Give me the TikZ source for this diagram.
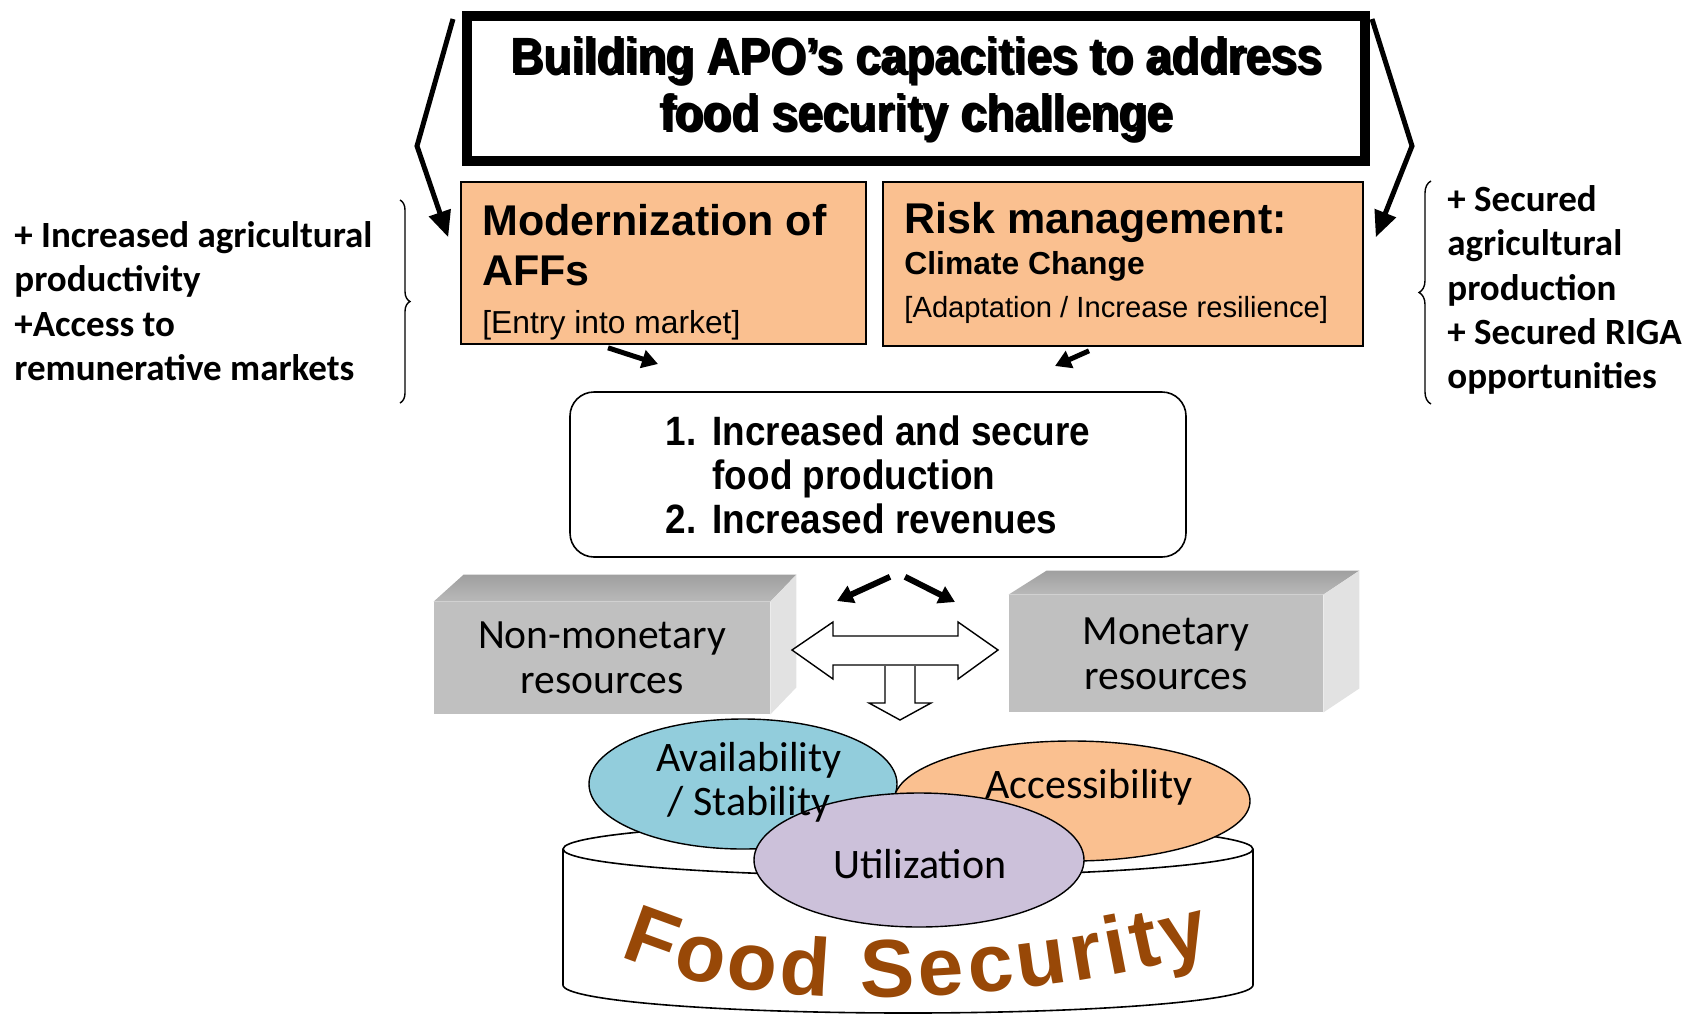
\documentclass[tikz,border=0pt]{standalone}
\usepackage{fontspec}
\setmainfont{Liberation Sans}
\newfontfamily\narrowfont[FakeStretch=0.9]{Liberation Sans}
\newfontfamily\calfont{Carlito}
\usetikzlibrary{arrows.meta,shapes.geometric,decorations.pathreplacing,decorations.text,calc}

\definecolor{peach}{RGB}{250,192,144}
\definecolor{skyblue}{RGB}{146,205,220}
\definecolor{lilac}{RGB}{204,193,218}
\definecolor{fsbrown}{RGB}{152,72,7}
\definecolor{facegray}{RGB}{192,192,192}
\definecolor{sidegray}{RGB}{226,226,226}

\newcommand\fsfont{\bfseries\fontsize{41}{43}\selectfont}

\tikzset{
  peachbox/.style={rectangle,draw=black,line width=0.8pt,fill=peach,inner sep=0pt},
  headtxt/.style={anchor=west,inner sep=0pt,font=\bfseries\fontsize{21.5}{24}\selectfont},
  titletxt/.style={align=center,inner sep=0pt,font=\narrowfont\bfseries\fontsize{25.5}{28.5}\selectfont},
  sidetext/.style={anchor=west,align=left,inner sep=0pt,font=\calfont\bfseries\fontsize{18.5}{22.2}\selectfont},
  blockface/.style={rectangle,fill=facegray,inner sep=0pt,align=center,font=\calfont\fontsize{20.8}{22.5}\selectfont},
  bubble/.style={ellipse,draw=black,line width=0.7pt,inner sep=0pt},
  bubtext/.style={align=center,inner sep=0pt,font=\calfont\fontsize{21}{22}\selectfont},
  fatarrow/.style={line width=2.5pt,-{Triangle[length=13pt,width=11pt]}},
  shortarrow/.style={line width=2.5pt,-{Triangle[length=8pt,width=9pt]}},
  hollow/.style={draw=black,line width=0.7pt,fill=white,line join=miter},
}

\begin{document}
\begin{tikzpicture}[x=0.5pt,y=-0.5pt]
\useasboundingbox (0,0) rectangle (1697,1013);

% title box
\node[draw,line width=5pt,fill=white,minimum width=449pt,minimum height=72.5pt,inner sep=0pt] (title) at (916,88.5) {};
\node[titletxt] (titleshadow) at ([shift={(1.25pt,-1pt)}]title.center) {Building APO’s capacities to address\\food security challenge};
\node[titletxt] (titlename) at (title.center) {Building APO’s capacities to address\\food security challenge};

% the two action boxes
\node[peachbox,minimum width=202.5pt,minimum height=81pt] (modern) at (663.5,263) {};
\node[peachbox,minimum width=240pt,minimum height=82pt] (risk) at (1123,264) {};

\node[headtxt] (modernhead) at (482,220) {Modernization of};
\node[headtxt] (modernaffs) at (482,271) {AFFs};
\node[anchor=west,inner sep=0pt,font=\fontsize{15.9}{18}\selectfont] (modernsub) at (482,325) {[Entry into market]};
\node[headtxt] (riskhead) at (904,222.5) {Risk management:};
\node[anchor=west,inner sep=0pt,font=\bfseries\fontsize{15.9}{18}\selectfont] (riskclim) at (904,266.5) {Climate Change};
\node[anchor=west,inner sep=0pt,font=\fontsize{14.6}{17}\selectfont] (risksub) at (904,309.5) {[Adaptation / Increase resilience]};

\coordinate (bendL) at (417,146);
\coordinate (bendR) at (1412,146);
\draw[fatarrow] ([shift={(-4.5pt,-4pt)}]title.north west) -- (bendL) -- ([shift={(-6pt,-28pt)}]modern.north west);
\draw[fatarrow] ([shift={(1pt,-4pt)}]title.north east) -- (bendR) -- ([shift={(6pt,-28pt)}]risk.north east);

% side notes
\node[sidetext] (gainsL) at (14,301) {+ Increased agricultural\\productivity\\+Access to\\remunerative markets};
\node[sidetext] (gainsR) at (1447,290) {+ Secured\\agricultural\\production\\+ Secured RIGA\\opportunities};
\draw[decorate,decoration={brace,amplitude=5pt},line width=0.7pt] (400,200) -- (400,403);
\draw[decorate,decoration={brace,amplitude=6pt},line width=0.7pt] (1431,404) -- (1431,181);

% outcomes
\node[draw,rounded corners=12pt,line width=0.8pt,fill=white,minimum width=308pt,minimum height=82.5pt,inner sep=0pt] (outcome) at (878,474.5) {};
\node[inner sep=0pt,font=\narrowfont\bfseries\fontsize{20.5}{22}\selectfont] (outcometxt) at (878,481)
  {\begin{tabular}{@{}l@{\hspace{8pt}}l@{}}1. & Increased and secure\\ & food production\\2. & Increased revenues\end{tabular}};

\coordinate (modtip) at (658,364);
\coordinate (risktip) at (1055,366);
\draw[shortarrow] ([shift={(-27.75pt,-1.5pt)}]modern.south) -- (modtip);
\draw[shortarrow] ([shift={(-17pt,-2pt)}]risk.south) -- (risktip);

\coordinate (leftdrop) at (837,601);
\coordinate (rightdrop) at (955,602);
\draw[shortarrow,line width=3pt] ([shift={(6pt,-9.5pt)}]outcome.south) -- (leftdrop);
\draw[shortarrow,line width=3pt] ([shift={(13.5pt,-9.5pt)}]outcome.south) -- (rightdrop);

% resource blocks
\node[blockface,minimum width=168pt,minimum height=56pt] (nonmon) at (602,658) {Non-monetary\\resources};
\shade[top color=gray!75,bottom color=gray!55] (nonmon.north west) -- ++(30,-27) -- ($(nonmon.north east)+(26,-27)$) -- (nonmon.north east) -- cycle;
\fill[sidegray] (nonmon.north east) -- ++(26,-27) -- ($(nonmon.south east)+(26,-27)$) -- (nonmon.south east) -- cycle;

\node[blockface,minimum width=157pt,minimum height=58.5pt] (mon) at (1166,653.5) {Monetary\\resources};
\shade[top color=gray!75,bottom color=gray!55] (mon.north west) -- ++(38,-24) -- ($(mon.north east)+(36,-24)$) -- (mon.north east) -- cycle;
\fill[sidegray] (mon.north east) -- ++(36,-24) -- ($(mon.south east)+(36,-24)$) -- (mon.south east) -- cycle;

\draw[hollow] (792,650) -- (833,622) -- (833,636) -- (958,636) -- (958,622) -- (998,650) -- (958,679) -- (958,665) -- (833,665) -- (833,679) -- cycle;
\draw[hollow] (885,666) -- (885,703) -- (869,703) -- (900,720) -- (931,703) -- (915,703) -- (915,666);

% food security drum
\draw[fill=white,line width=0.8pt] (563,849) -- (563,985) arc[start angle=180,end angle=0,x radius=345,y radius=28] -- (1253,849);
\draw[fill=white,line width=0.8pt] (908,849) ellipse[x radius=345,y radius=27];
\path[decorate,decoration={text along path,text={|\fsfont|Food Security},text color=fsbrown,text align=fit to path}]
  (620,956) .. controls (740,1012) and (990,1012) .. (1212,952);

\node[bubble,fill=skyblue,minimum width=154pt,minimum height=65pt] (avail) at (743,784) {};
\node[bubble,fill=peach,minimum width=178pt,minimum height=60pt] (access) at (1072,801) {};
\node[bubble,fill=lilac,minimum width=165pt,minimum height=67pt] (util) at (919,860) {};
\node[bubtext] (availtxt) at (749,782) {Availability\\/ Stability};
\node[bubtext] (accesstxt) at (1089,787) {Accessibility};
\node[bubtext] (utiltxt) at (920,864) {Utilization};

\end{tikzpicture}
\end{document}
